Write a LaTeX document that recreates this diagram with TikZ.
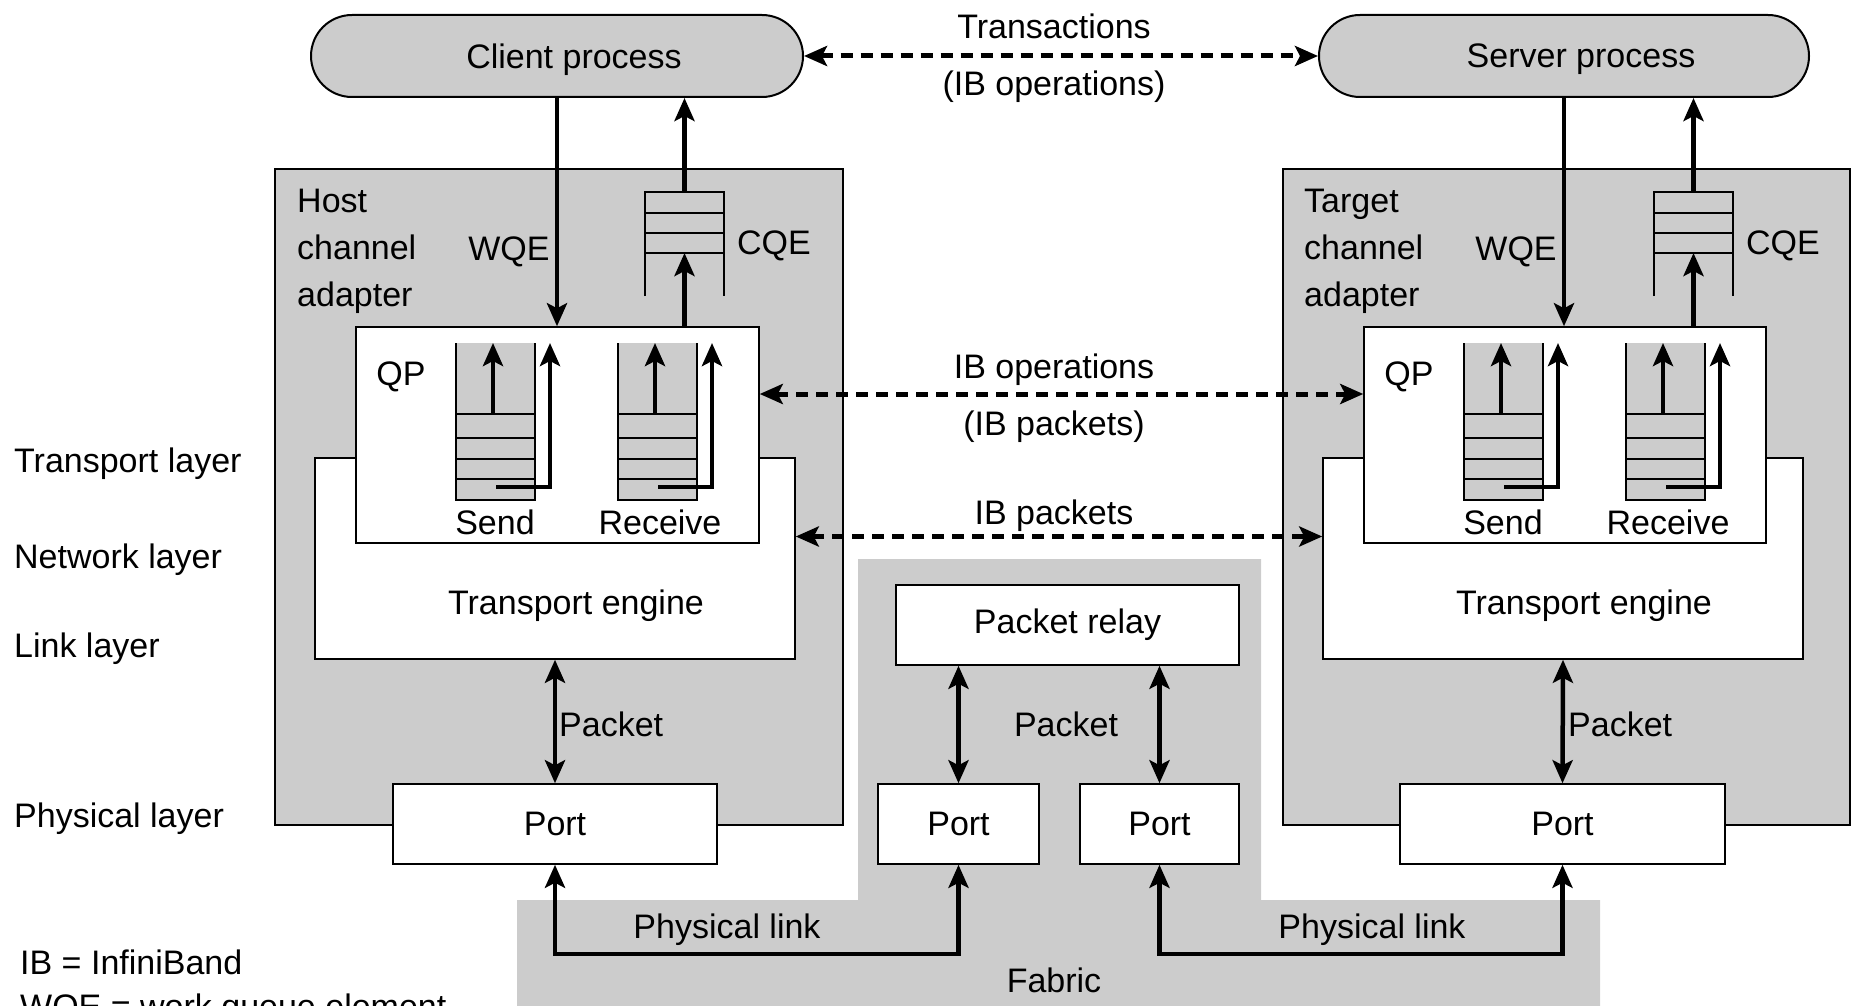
\documentclass[tikz,border=0pt]{standalone}
\usepackage{fontspec}
\setmainfont{Liberation Sans}
\usepackage{xcolor}
\usepackage{tikz}
\usetikzlibrary{arrows.meta, positioning, calc}

\definecolor{ibgray}{gray}{0.8}

\tikzset{
  >={Stealth[length=23pt,width=20pt,inset=5pt]},
  every node/.style={font=\fontsize{34}{47}\selectfont, inner sep=0pt},
  grayarea/.style={draw, line width=1.5pt, fill=ibgray},
  whitebox/.style={draw, line width=1.5pt, fill=white},
  procbox/.style={draw, line width=2pt, fill=ibgray, rounded corners=41pt, minimum height=82pt, text depth=0pt},
  arr/.style={line width=4.5pt},
  dasharr/.style={line width=5pt, dash pattern=on 12pt off 8pt, <->},
  slot/.style={line width=1.6pt},
}

\begin{document}
\begin{tikzpicture}[x=1pt, y=-1pt]
        \useasboundingbox (0,0) rectangle (1856,1006);

        % Processes
        \node[procbox, minimum width=492pt] (client) at (557,56) {\hspace*{34pt}Client process};
        \node[procbox, minimum width=490pt] (server) at (1564,56) {\hspace*{34pt}Server process};

        % Channel adapters and fabric
        \node[grayarea, minimum width=568pt, minimum height=656pt] (hca) at (559,497) {};
        \node[grayarea, minimum width=567pt, minimum height=656pt] (tca) at (1566.5,497) {};
        \fill[ibgray] (517,1010) -- (517,900) -- (858,900) -- (858,559) -- (1261,559)
                -- (1261,900) -- (1600,900) -- (1600,1010) -- cycle;

        % Transport engines and queue pairs
        \node[whitebox, minimum width=480pt, minimum height=201pt] (hte) at (555,558.5) {};
        \node[whitebox, minimum width=480pt, minimum height=201pt] (tte) at (1563,558.5) {};
        \node[whitebox, minimum width=403pt, minimum height=216pt] (hqp) at (557.5,435) {};
        \node[whitebox, minimum width=402pt, minimum height=216pt] (tqp) at (1565,435) {};

        % Ports
        \node[whitebox, minimum width=324pt, minimum height=80pt, text depth=0pt] (hport) at (555,824) {Port};
        \node[whitebox, minimum width=325pt, minimum height=80pt, text depth=0pt] (tport) at (1562.5,824) {Port};
        \node[whitebox, minimum width=161pt, minimum height=80pt, text depth=0pt] (fport1) at (958.5,824) {Port};
        \node[whitebox, minimum width=159pt, minimum height=80pt, text depth=0pt] (fport2) at (1159.5,824) {Port};
        \node[whitebox, minimum width=343pt, minimum height=80pt] (relay) at (1067.5,625) {Packet relay};

        % Send and receive queues
        \foreach \q in {456,618,1464,1626} {
                \fill[ibgray] (\q,343) rectangle ++(79,157);
                \draw[slot] (\q,343) -- (\q,500) -- ++(79,0) -- ++(0,-157);
                \foreach \s in {414,438,459,479}
                        \draw[slot] (\q,\s) -- ++(79,0);
                \draw[arr,->] (\q+37,414) -- (\q+37,343);
                \draw[arr,->, line join=miter] (\q+40,487) -- (\q+94,487) -- (\q+94,343);
            }

        % Completion queues
        \foreach \c in {645,1654} {
                \draw[slot] (\c,296) -- (\c,192) -- (\c+79,192) -- (\c+79,296);
                \foreach \s in {213,233,253}
                        \draw[slot] (\c,\s) -- ++(79,0);
            }
        \coordinate (hcqtop) at (684.5,192);
        \coordinate (hcqbot) at (684.5,253);
        \coordinate (tcqtop) at (1693.5,192);
        \coordinate (tcqbot) at (1693.5,253);

        % Labels
        \node[align=left, anchor=north west] (hcatxt) at (297,189) {Host\\channel\\adapter};
        \node[align=left, anchor=north west] (tcatxt) at (1304,189) {Target\\channel\\adapter};
        \node (hwqe) at (509,252) {WQE};
        \node (hcqe) at (774,246) {CQE};
        \node (twqe) at (1516,252) {WQE};
        \node (tcqe) at (1783,246) {CQE};
        \node (hqptxt) at (401,377) {QP};
        \node (tqptxt) at (1409,377) {QP};
        \node (hsend) at (495,522) {Send};
        \node (hrecv) at (660,522) {Receive};
        \node (tsend) at (1503,522) {Send};
        \node (trecv) at (1668,522) {Receive};
        \node (htetxt) at (576,606) {Transport engine};
        \node (ttetxt) at (1584,606) {Transport engine};

        \node (trans) at (1054,26) {Transactions};
        \node (transop) at (1054,87) {(IB operations)};
        \node (ibops) at (1054,370) {IB operations};
        \node (ibpk) at (1054,427) {(IB packets)};
        \node (ibpk2) at (1054,516) {IB packets};

        \node[anchor=west] (hpk) at (559,724) {Packet};
        \node (fpk) at (1066,724) {Packet};
        \node[anchor=west] (tpk) at (1568,724) {Packet};
        \node (hlink) at (727,930) {Physical link};
        \node (tlink) at (1372,930) {Physical link};
        \node (fabric) at (1054,980) {Fabric};

        % Layers and legend
        \node[anchor=base west] (ltrans) at (14,472) {Transport layer};
        \node[anchor=base west] (lnet) at (14,568) {Network layer};
        \node[anchor=base west] (llink) at (14,657) {Link layer};
        \node[anchor=base west] (lphys) at (14,827) {Physical layer};
        \node[anchor=base west] (leg1) at (20,974) {IB = InfiniBand};
        \node[anchor=base west] (leg2) at (20,1018) {WQE = work queue element};

        % Connectors
        \draw[arr,->] (client.south) -- (client.south |- hqp.north);
        \draw[arr,->] (hqp.north -| hcqbot) -- (hcqbot);
        \draw[arr,->] (hcqtop) -- (hcqtop |- client.south);
        \draw[arr,->] (server.south) -- (server.south |- tqp.north);
        \draw[arr,->] (tqp.north -| tcqbot) -- (tcqbot);
        \draw[arr,->] (tcqtop) -- (tcqtop |- server.south);

        \draw[dasharr] (client.east) -- (server.west);
        \draw[dasharr] ([yshift=41pt]hqp.east) -- ([yshift=41pt]tqp.west);
        \draw[dasharr] ([yshift=22pt]hte.east) -- ([yshift=22pt]tte.west);

        \draw[arr,<->] (hte.south) -- (hport.north);
        \draw[arr,<->] (tte.south) -- (tport.north);
        \draw[arr,<->] (fport1.north) -- (fport1.north |- relay.south);
        \draw[arr,<->] (fport2.north) -- (fport2.north |- relay.south);
        \draw[arr,<->, line join=miter] (hport.south) -- ++(0,89) -| (fport1.south);
        \draw[arr,<->, line join=miter] (fport2.south) -- ++(0,89) -| (tport.south);

    \end{tikzpicture}
\end{document}
